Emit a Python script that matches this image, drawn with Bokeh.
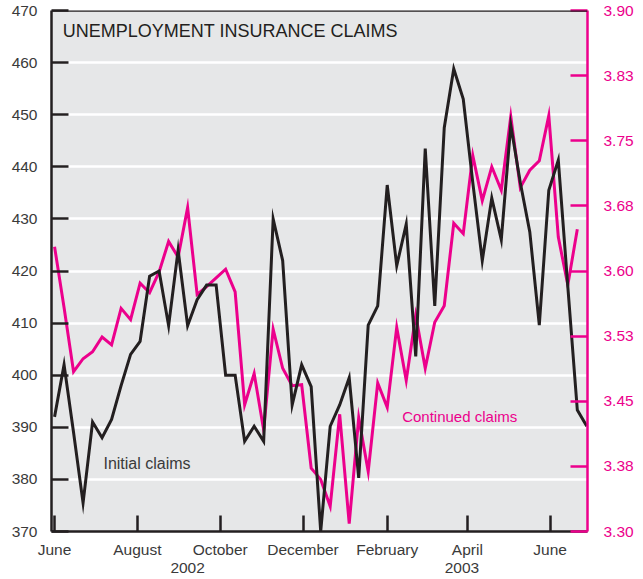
import pandas as pd
from datetime import datetime
from bokeh.plotting import figure
from bokeh.models import Range1d, LinearAxis, FixedTicker, Label, Span
from bokeh.embed import file_html
from bokeh.resources import INLINE

# ---------------- data ----------------
weeks_initial = pd.date_range("2002-06-01", periods=57, freq="7D")
weeks_continued = weeks_initial[:56]

# Initial claims, thousands (left axis)
initial_claims = [392, 402, 389, 375.5, 391, 388, 391.5, 398, 404, 406.5,
                  419, 420, 409.5, 424, 409.5, 414.5, 417.3, 417.3, 400, 400,
                  387.3, 390.2, 387.3, 430, 422, 394.3, 402, 397.8, 370, 390.2,
                  394.3, 399.5, 380.3, 409.6, 413.3, 436.5, 421, 429, 403.6, 443.5,
                  413.3, 447.5, 458.8, 453, 437, 422, 434, 426, 448, 437,
                  427.5, 409.6, 435.5, 441.3, 417, 393.3, 390.2]

# Continued claims, millions (right axis)
continued_claims = [3.628, 3.558, 3.484, 3.499, 3.507, 3.524, 3.515, 3.557, 3.544, 3.586,
                    3.575, 3.599, 3.634, 3.616, 3.673, 3.573, 3.582, 3.592, 3.602, 3.576,
                    3.446, 3.482, 3.417, 3.533, 3.488, 3.468, 3.469, 3.373, 3.360, 3.329,
                    3.435, 3.309, 3.431, 3.369, 3.471, 3.443, 3.535, 3.474, 3.549, 3.488,
                    3.541, 3.560, 3.655, 3.643, 3.733, 3.681, 3.720, 3.693, 3.778, 3.696,
                    3.716, 3.727, 3.779, 3.639, 3.584, 3.648]

left_ticks = [370, 380, 390, 400, 410, 420, 430, 440, 450, 460, 470]
right_ticks = [3.30, 3.375, 3.45, 3.525, 3.60, 3.675, 3.75, 3.825, 3.90]
right_labels = ["3.30", "3.38", "3.45", "3.53", "3.60", "3.68", "3.75", "3.83", "3.90"]
month_ticks = ["2002-06-01", "2002-08-01", "2002-10-01", "2002-12-01",
               "2003-02-01", "2003-04-01", "2003-06-01"]
month_labels = ["June", "August", "October", "December", "February", "April", "June"]
year_positions = ["2002-09-07", "2003-03-28"]
year_labels = ["2002", "2003"]

title_text = "UNEMPLOYMENT INSURANCE CLAIMS"

# ---------------- style ----------------
BLACK = "#231f20"
PINK = "#ec008c"
GREY_TXT = "#3a3a3a"
BG = "#e6e7e8"
FONT = "Liberation Sans"
TICK_SIZE = "15.5px"


def ms(d):
    return pd.Timestamp(d).value / 1e6


p = figure(width=643, height=579, x_axis_type="datetime",
           x_range=Range1d(datetime(2002, 5, 29, 18), datetime(2003, 6, 28, 12)),
           y_range=Range1d(370, 470),
           output_backend="svg", toolbar_location=None,
           min_border_left=51, min_border_right=56,
           min_border_top=10, min_border_bottom=48)

p.background_fill_color = BG
p.border_fill_color = "white"
p.outline_line_color = None
p.xgrid.grid_line_color = None
p.ygrid.grid_line_color = "white"
p.ygrid.grid_line_width = 2.5

# left axis
ya = p.yaxis[0]
ya.ticker = FixedTicker(ticks=left_ticks)
ya.major_tick_in = 17
ya.major_tick_out = 0
ya.minor_tick_line_color = None
ya.axis_line_color = BLACK
ya.axis_line_width = 2.5
ya.major_tick_line_color = BLACK
ya.major_tick_line_width = 2.5
ya.major_label_standoff = 14
ya.major_label_text_font = FONT
ya.major_label_text_font_size = TICK_SIZE
ya.major_label_text_color = GREY_TXT

# right axis
p.extra_y_ranges = {"cc": Range1d(3.30, 3.90)}
ra = LinearAxis(y_range_name="cc", ticker=FixedTicker(ticks=right_ticks),
                major_label_overrides=dict(zip(right_ticks, right_labels)))
ra.major_tick_in = 17
ra.major_tick_out = 0
ra.minor_tick_line_color = None
ra.axis_line_color = PINK
ra.axis_line_width = 2.5
ra.major_tick_line_color = PINK
ra.major_tick_line_width = 2.5
ra.major_label_standoff = 16
ra.major_label_text_font = FONT
ra.major_label_text_font_size = TICK_SIZE
ra.major_label_text_color = PINK
p.add_layout(ra, "right")

# bottom axis (months)
xa = p.xaxis[0]
mt = [ms(d) for d in month_ticks]
xa.ticker = FixedTicker(ticks=mt)
xa.major_label_overrides = dict(zip(mt, month_labels))
xa.major_tick_in = 16
xa.major_tick_out = 0
xa.minor_tick_line_color = None
xa.axis_line_color = BLACK
xa.axis_line_width = 2.5
xa.major_tick_line_color = BLACK
xa.major_tick_line_width = 2.5
xa.major_label_standoff = 9
xa.major_label_text_font = FONT
xa.major_label_text_font_size = TICK_SIZE
xa.major_label_text_color = GREY_TXT

# second bottom axis (years)
yt = [ms(d) for d in year_positions]
ya2 = LinearAxis(ticker=FixedTicker(ticks=yt),
                 major_label_overrides=dict(zip(yt, year_labels)))
ya2.axis_line_color = None
ya2.major_tick_line_color = None
ya2.minor_tick_line_color = None
ya2.major_tick_in = 0
ya2.major_tick_out = 0
ya2.major_label_standoff = 2
ya2.major_label_text_font = FONT
ya2.major_label_text_font_size = TICK_SIZE
ya2.major_label_text_color = GREY_TXT
p.add_layout(ya2, "below")

# top border
p.add_layout(Span(location=470, dimension="width", line_color=BLACK, line_width=2.5))

# lines
p.line(weeks_continued, continued_claims, y_range_name="cc",
       line_color=PINK, line_width=3, line_join="miter")
p.line(weeks_initial, initial_claims,
       line_color=BLACK, line_width=3, line_join="miter")

# texts
p.add_layout(Label(x=ms("2002-06-07"), y=466.0, text=title_text,
                   text_font=FONT, text_font_size="18px",
                   text_color=BLACK, text_baseline="alphabetic"))
p.add_layout(Label(x=ms("2002-07-07"), y=383.1, text="Initial claims",
                   text_font=FONT, text_font_size="16px",
                   text_color=GREY_TXT, text_baseline="alphabetic"))
p.add_layout(Label(x=ms("2003-02-12"), y=392.1, text="Continued claims",
                   text_font=FONT, text_font_size="15px",
                   text_color=PINK, text_baseline="alphabetic"))

open("out.html", "w").write(file_html(p, INLINE))
